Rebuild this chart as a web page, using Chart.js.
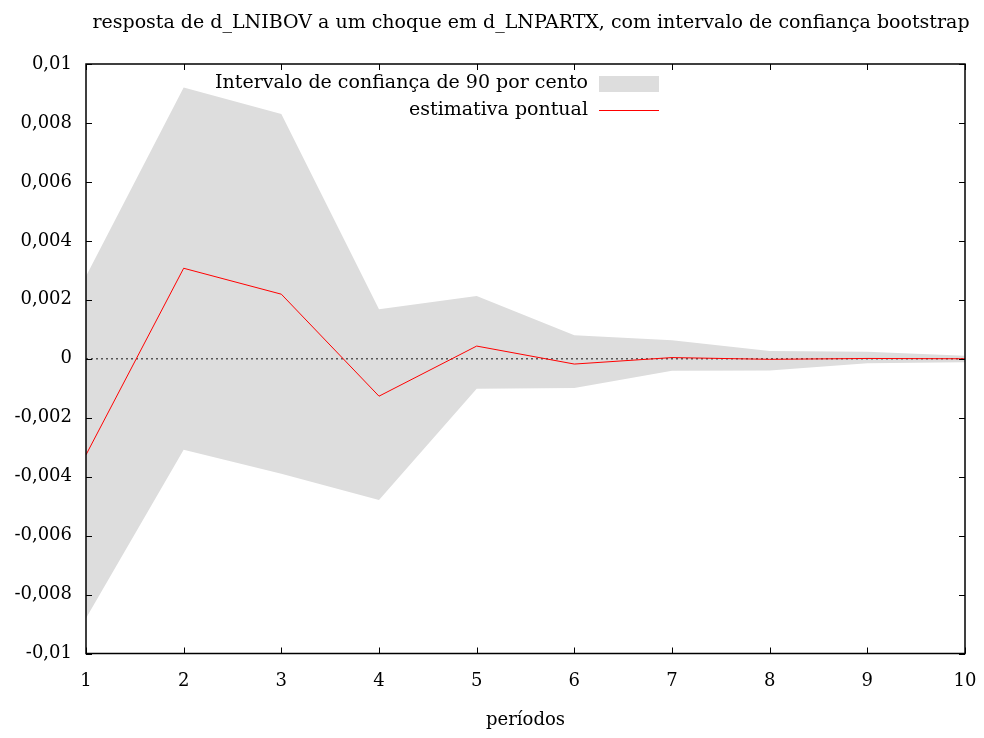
<!DOCTYPE html>
<html lang="pt">
<head>
<meta charset="utf-8">
<title>resposta de d_LNIBOV a um choque em d_LNPARTX</title>
<script src="https://cdn.jsdelivr.net/npm/chart.js@4.4.1/dist/chart.umd.min.js"></script>
<style>
  html, body { margin: 0; padding: 0; background: #fff; }
  #grafico { display: block; }
</style>
</head>
<body>
<canvas id="grafico" width="984" height="738"></canvas>
<script>
// Função impulso-resposta com banda bootstrap de 90%
const periodos = [1, 2, 3, 4, 5, 6, 7, 8, 9, 10];
const limiteSuperior = [0.0028, 0.0092, 0.0083, 0.00168, 0.00213, 0.0008, 0.00063, 0.00026, 0.00024, 0.0001];
const limiteInferior = [-0.0088, -0.00309, -0.0039, -0.00479, -0.00102, -0.00099, -0.00041, -0.0004, -0.00015, -0.00012];
const estimativa = [-0.00326, 0.00307, 0.00219, -0.00127, 0.00043, -0.00018, 0.00004, -0.00002, 0.00001, 0.0];

const tituloGrafico = 'resposta de d_LNIBOV a um choque em d_LNPARTX, com intervalo de confiança bootstrap';
const rotuloBanda = 'Intervalo de confiança de 90 por cento';
const rotuloEstimativa = 'estimativa pontual';
const rotuloEixoX = 'períodos';

const FONTE = "'DejaVu Serif', serif";
const CINZA = '#dddddd';
const VERMELHO = '#ff0000';

const pontos = serie => periodos.map((p, i) => ({ x: p, y: serie[i] }));

function formataY(v) {
    if (Math.abs(v) < 1e-12) return '0';
    return String(parseFloat(v.toFixed(4))).replace('.', ',');
}

// moldura, marcas de escala para dentro, título e legenda no estilo gnuplot
const moldura = {
    id: 'moldura',
    beforeDatasetDraw(chart, args) {
        // linha pontilhada do zero, por baixo da estimativa pontual
        if (args.index !== 2) return;
        const { ctx, chartArea: a, scales } = chart;
        const y0 = scales.y.getPixelForValue(0);
        ctx.save();
        ctx.strokeStyle = '#555555';
        ctx.lineWidth = 1.5;
        ctx.setLineDash([2, 3]);
        ctx.beginPath();
        ctx.moveTo(a.left, y0);
        ctx.lineTo(a.right, y0);
        ctx.stroke();
        ctx.restore();
    },
    afterDatasetsDraw(chart) {
        const { ctx, chartArea: a, scales } = chart;
        const marca = 6;
        ctx.save();
        ctx.strokeStyle = '#000';
        ctx.lineWidth = 1;
        ctx.beginPath();
        scales.x.ticks.forEach(t => {
            const x = Math.round(scales.x.getPixelForValue(t.value)) + 0.5;
            ctx.moveTo(x, a.bottom); ctx.lineTo(x, a.bottom - marca);
            ctx.moveTo(x, a.top); ctx.lineTo(x, a.top + marca);
        });
        scales.y.ticks.forEach(t => {
            const y = Math.round(scales.y.getPixelForValue(t.value)) + 0.5;
            ctx.moveTo(a.left, y); ctx.lineTo(a.left + marca, y);
            ctx.moveTo(a.right, y); ctx.lineTo(a.right - marca, y);
        });
        ctx.stroke();
        ctx.lineWidth = 1.5;
        ctx.strokeRect(a.left, a.top, a.right - a.left, a.bottom - a.top);

        // título
        ctx.fillStyle = '#000';
        ctx.font = '19px ' + FONTE;
        ctx.textAlign = 'center';
        ctx.textBaseline = 'middle';
        ctx.fillText(tituloGrafico, 531, 23);

        // legenda
        const textoX = a.right - 377;
        const amostraX = a.right - 366;
        const amostraL = 60;
        ctx.textAlign = 'right';
        const banda = chart.data.datasets[0];
        ctx.fillText(banda.label, textoX, 83);
        ctx.fillStyle = banda.backgroundColor;
        ctx.fillRect(amostraX, 76, amostraL, 16);
        const linha = chart.data.datasets[2];
        ctx.fillStyle = '#000';
        ctx.fillText(linha.label, textoX, 110);
        ctx.strokeStyle = linha.borderColor;
        ctx.lineWidth = 1;
        ctx.beginPath();
        ctx.moveTo(amostraX, 110.5);
        ctx.lineTo(amostraX + amostraL, 110.5);
        ctx.stroke();
        ctx.restore();
    }
};

new Chart(document.getElementById('grafico'), {
    type: 'line',
    data: {
        datasets: [
            {
                label: rotuloBanda,
                data: pontos(limiteSuperior),
                order: 2,
                borderWidth: 0,
                pointRadius: 0,
                backgroundColor: CINZA,
                borderColor: CINZA,
                fill: '+1'
            },
            {
                label: '',
                data: pontos(limiteInferior),
                order: 1,
                borderWidth: 0,
                pointRadius: 0,
                borderColor: CINZA,
                fill: false
            },
            {
                label: rotuloEstimativa,
                data: pontos(estimativa),
                order: 0,
                borderColor: VERMELHO,
                borderWidth: 1,
                pointRadius: 0,
                fill: false,
                tension: 0
            }
        ]
    },
    options: {
        responsive: false,
        animation: false,
        events: [],
        layout: { padding: { top: 64, right: 19, bottom: 0, left: 0 } },
        plugins: {
            legend: { display: false },
            title: { display: false },
            tooltip: { enabled: false }
        },
        scales: {
            x: {
                type: 'linear',
                min: 1,
                max: 10,
                afterFit: s => { s.height = 84.5; s.paddingLeft = 0; s.paddingRight = 0; },
                grid: { display: false, drawTicks: false },
                border: { display: false },
                ticks: {
                    stepSize: 1,
                    padding: 17,
                    maxRotation: 0,
                    color: '#000',
                    font: { family: FONTE, size: 18 },
                    callback: v => String(v)
                },
                title: {
                    display: true,
                    text: rotuloEixoX,
                    color: '#000',
                    font: { family: FONTE, size: 18 },
                    padding: { top: 0, bottom: 7 }
                }
            },
            y: {
                min: -0.01,
                max: 0.01,
                afterFit: s => { s.width = 86; s.paddingTop = 0; s.paddingBottom = 0; },
                grid: { display: false, drawTicks: false },
                border: { display: false },
                ticks: {
                    stepSize: 0.002,
                    padding: 14,
                    color: '#000',
                    font: { family: FONTE, size: 18 },
                    callback: formataY
                }
            }
        }
    },
    plugins: [moldura]
});
</script>
</body>
</html>
